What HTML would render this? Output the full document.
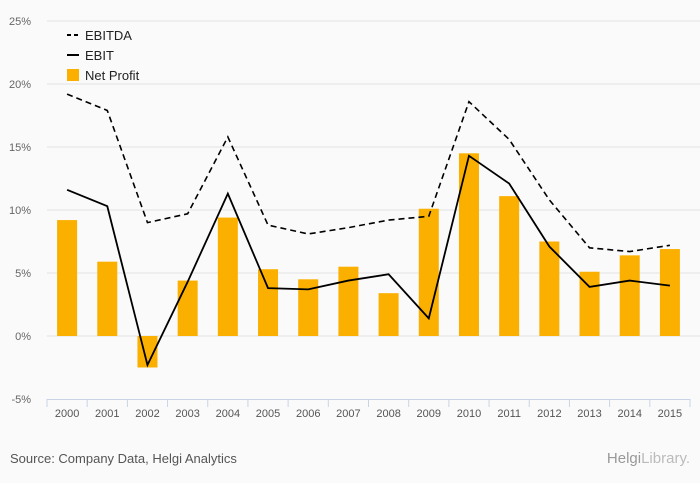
<!DOCTYPE html>
<html><head><meta charset="utf-8"><style>
html,body{margin:0;padding:0;background:#fafafa;}
svg{display:block;font-family:"Liberation Sans",sans-serif;}
</style></head><body>
<svg id="chart" width="700" height="483" viewBox="0 0 700 483">
<rect x="0" y="0" width="700" height="483" fill="#fafafa"/>
<g id="grid"></g><g id="bars"></g><g id="lines"></g><g id="axis"></g>
<g>
<line x1="67" y1="35" x2="79" y2="35" stroke="#000" stroke-width="2" stroke-dasharray="4,3"/>
<text x="85" y="40" font-size="13" fill="#222">EBITDA</text>
<line x1="67" y1="55" x2="79" y2="55" stroke="#000" stroke-width="2"/>
<text x="85" y="60" font-size="13" fill="#222">EBIT</text>
<rect x="67" y="69" width="12" height="12" fill="#fbb000"/>
<text x="85" y="80" font-size="13" fill="#222">Net Profit</text>
</g>
<text x="10" y="463" font-size="13" fill="#555">Source: Company Data, Helgi Analytics</text>
<text x="690" y="463" font-size="15" fill="#999" text-anchor="end">Helgi<tspan fill="#bbb">Library.</tspan></text>
</svg>
<script>
const categories=["2000","2001","2002","2003","2004","2005","2006","2007","2008","2009","2010","2011","2012","2013","2014","2015"];
const netProfit=[9.2,5.9,-2.5,4.4,9.4,5.3,4.5,5.5,3.4,10.1,14.5,11.1,7.5,5.1,6.4,6.9];
const ebitda=[19.2,17.9,9.0,9.7,15.8,8.8,8.1,8.6,9.2,9.5,18.6,15.6,10.8,7.0,6.7,7.2];
const ebit=[11.6,10.3,-2.3,4.3,11.3,3.8,3.7,4.4,4.9,1.4,14.3,12.1,7.1,3.9,4.4,4.0];
const yTicks=[-5,0,5,10,15,20,25];
const NS="http://www.w3.org/2000/svg";
const X0=47,X1=690,bw=(X1-X0)/categories.length;
const y=v=>336-v*12.6;
const xc=i=>X0+bw*(i+0.5);
function mk(t,a,p){const e=document.createElementNS(NS,t);for(const k in a)e.setAttribute(k,a[k]);p.appendChild(e);return e;}
const grid=document.getElementById('grid'),bars=document.getElementById('bars'),lines=document.getElementById('lines'),axis=document.getElementById('axis');
yTicks.forEach(t=>{
 if(t>-5){const g=mk('line',{x1:X0,x2:700,y1:y(t),y2:y(t),stroke:'#e2e2e2','stroke-width':1},grid);
 
 }
 const l=mk('text',{x:31,y:y(t)+4,'font-size':11,fill:'#666','text-anchor':'end'},grid);l.textContent=t+'%';
 
 
});
netProfit.forEach((v,i)=>{
 const r=mk('rect',{x:xc(i)-10,width:20,y:Math.min(y(v),y(0)),height:Math.abs(y(v)-y(0)),fill:'#fbb000'},bars);
 
 
});
const pts=a=>a.map((v,i)=>xc(i)+','+y(v)).join(' ');
const l1=mk('polyline',{points:pts(ebitda),fill:'none',stroke:'#000','stroke-width':1.6,'stroke-dasharray':'6,4'},lines);


const l2=mk('polyline',{points:pts(ebit),fill:'none',stroke:'#000','stroke-width':1.8},lines);


const ax=mk('line',{x1:X0,x2:X1,y1:399.5,y2:399.5,stroke:'#c8d4e6'},axis);


categories.forEach((c,i)=>{
 const tk=mk('line',{x1:X0+bw*i,x2:X0+bw*i,y1:399,y2:407,stroke:'#c8d4e6'},axis);
 
 
 const t=mk('text',{x:xc(i),y:417,'font-size':11,fill:'#555','text-anchor':'middle'},axis);t.textContent=c;
 
 
});
mk('line',{x1:X1,x2:X1,y1:399,y2:407,stroke:'#c8d4e6'},axis);
</script>
</body></html>
